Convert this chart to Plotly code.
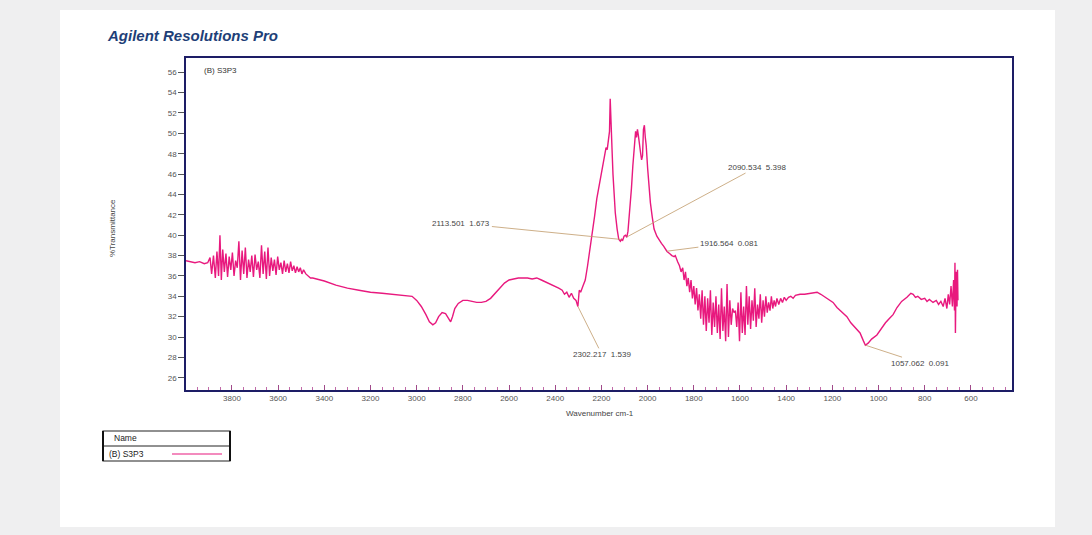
import numpy as np
import plotly.graph_objects as go

# ---------------- data ----------------
wavenumber = [
    3999, 3980, 3960, 3940, 3920, 3905,
    3895, 3888, 3880, 3872, 3865, 3858, 3852, 3846, 3840, 3833, 3826, 3819, 3812, 3805,
    3798, 3791, 3784, 3777, 3770, 3763, 3756, 3749, 3742, 3735, 3728, 3721, 3714, 3707,
    3700, 3693, 3686, 3679, 3672, 3665, 3658, 3651, 3644, 3637, 3630, 3623, 3616, 3609,
    3602, 3595, 3588, 3581, 3574, 3567, 3560, 3553, 3546, 3539, 3532, 3525, 3518, 3511,
    3504, 3497, 3490, 3480, 3470, 3460, 3450,
    3400, 3350, 3300, 3250, 3200, 3150, 3100, 3050, 3020, 3000, 2980, 2960, 2945, 2930,
    2918, 2905, 2890, 2875, 2862, 2853, 2845, 2835, 2820, 2800, 2780, 2760, 2740, 2720,
    2700, 2680, 2660, 2640, 2620, 2600, 2580, 2560, 2540, 2520, 2500, 2480, 2460, 2440,
    2420, 2400, 2385, 2370, 2360, 2350, 2340, 2330, 2320, 2310, 2302, 2296, 2290, 2280,
    2270, 2260, 2250, 2240, 2230, 2220, 2210, 2200, 2190, 2185, 2180, 2175, 2170, 2165,
    2162, 2158, 2154, 2150, 2145, 2140, 2132, 2125, 2118, 2113, 2108, 2102, 2096, 2090,
    2085, 2080, 2075, 2070, 2064, 2058, 2052, 2048, 2044, 2040, 2035, 2030, 2026, 2022,
    2018, 2014, 2010, 2006, 2000, 1994, 1988, 1980, 1972, 1960, 1950, 1940, 1930, 1920,
    1916, 1905, 1895, 1885,
    1880, 1870, 1862, 1855, 1848, 1842, 1836, 1830, 1824, 1818, 1812, 1806, 1800, 1794,
    1788, 1782, 1776, 1770, 1764, 1758, 1752, 1746, 1740, 1734, 1728, 1722, 1716, 1710,
    1704, 1698, 1692, 1686, 1680, 1674, 1668, 1662, 1656, 1650, 1644, 1638, 1632, 1626,
    1620, 1614, 1608, 1602, 1596, 1590, 1584, 1578, 1572, 1566, 1560, 1554, 1548, 1542,
    1536, 1530, 1524, 1518, 1512, 1506, 1500, 1494, 1488, 1482, 1476, 1470, 1464, 1458,
    1452, 1446, 1440, 1432, 1424, 1416, 1408, 1400, 1390, 1380, 1370, 1360, 1340, 1320,
    1300, 1280, 1266, 1250, 1230, 1210, 1197, 1180, 1160, 1137, 1120, 1100, 1080, 1065,
    1057, 1045, 1030, 1007, 990, 970, 950, 937, 920, 900, 877, 860, 850, 840,
    830, 815, 800, 790, 780, 764, 750, 740, 730, 720, 712, 704, 698, 692,
    686, 680, 675, 671, 669, 667, 664, 660, 658, 656,
]
transmittance = [
    37.5, 37.4, 37.3, 37.4, 37.2, 37.3,
    37.8, 36.2, 38.0, 35.8, 38.4, 36.0, 40.0, 35.6, 38.6, 36.4, 38.2, 35.9, 37.9, 36.6,
    38.3, 36.0, 37.5, 36.8, 39.4, 35.6, 38.5, 36.2, 38.8, 35.8, 37.6, 36.4, 38.0, 35.9,
    38.1, 36.6, 37.4, 35.8, 39.0, 36.2, 38.4, 35.7, 38.8, 36.0, 37.8, 36.5, 37.6, 36.1,
    37.9, 36.6, 37.3, 36.2, 37.5, 36.4, 37.2, 36.3, 37.4, 36.5, 37.0, 36.3, 36.9, 36.4,
    36.8, 36.2, 36.6, 36.2, 36.0, 35.8, 35.8,
    35.5, 35.1, 34.8, 34.6, 34.4, 34.3, 34.2, 34.1, 34.0, 33.6, 33.0, 32.2, 31.5, 31.2,
    31.4, 32.0, 32.4, 32.3, 31.8, 31.5, 32.0, 32.8, 33.3, 33.6, 33.6, 33.5, 33.4, 33.4,
    33.5, 33.8, 34.3, 34.9, 35.3, 35.6, 35.7, 35.8, 35.8, 35.8, 35.7, 35.8, 35.6, 35.4,
    35.2, 35.0, 34.8, 34.6, 34.2, 34.4, 33.9, 34.3, 33.8, 33.6, 33.0, 34.6, 34.4, 35.0,
    35.6, 37.0, 38.5, 40.0, 41.8, 43.6, 44.8, 46.2, 47.2, 47.8, 48.6, 48.4, 49.6, 50.2,
    53.4, 50.0, 48.4, 46.0, 44.0, 42.2, 40.6, 39.6, 39.4, 39.6, 39.5, 39.9, 40.0, 39.8,
    40.4, 41.6, 43.0, 44.6, 46.8, 48.6, 50.2, 49.6, 50.4, 49.8, 48.6, 48.0, 47.4, 47.8,
    50.4, 50.8, 49.6, 48.8, 46.6, 44.8, 43.2, 41.8, 40.6, 39.9, 39.5, 39.2, 38.9, 38.6,
    38.4, 38.2, 38.0, 37.9,
    38.0, 37.4, 37.0, 36.4, 36.8, 35.6, 36.4, 35.0, 35.8, 34.4, 35.6, 33.8, 35.0, 33.2,
    34.8, 32.6, 34.2, 31.8, 34.6, 31.2, 34.0, 30.6, 33.8, 31.4, 34.6, 30.2, 33.4, 31.0,
    34.0, 30.4, 33.2, 29.8, 34.8, 30.6, 33.0, 29.6, 35.2, 30.0, 33.6, 31.2, 32.8, 32.4,
    32.6, 31.0, 33.4, 29.6, 34.4, 30.4, 33.0, 30.2, 35.0, 31.2, 34.0, 30.8, 33.6, 31.6,
    34.8, 31.0, 33.2, 31.8, 34.2, 31.4, 33.6, 32.0, 34.0, 32.4, 33.4, 32.6, 34.0, 32.8,
    33.6, 33.0, 33.8, 33.2, 33.8, 33.4, 33.9, 33.6, 33.9, 34.0, 33.8, 34.1, 34.2, 34.2,
    34.3, 34.4, 34.4, 34.2, 33.9, 33.6, 33.4, 32.9, 32.5, 32.0, 31.4, 30.9, 30.4, 29.6,
    29.2, 29.4, 29.8, 30.2, 30.8, 31.4, 31.9, 32.2, 32.9, 33.5, 33.9, 34.3, 34.2, 33.9,
    34.0, 33.7, 33.8, 33.5, 33.7, 33.4, 33.6, 33.2, 33.5, 33.0, 33.8, 32.8, 34.2, 33.2,
    35.0, 33.0, 35.6, 32.6, 37.3, 30.4, 36.4, 33.0, 36.6, 33.6,
]

peak_wavenumbers = [2113.501, 2090.534, 1916.564, 2302.217, 1057.062]
peak_labels = ["2113.501  1.673", "2090.534  5.398", "1916.564  0.081",
               "2302.217  1.539", "1057.062  0.091"]
peak_offsets = [(-160, -16), (130, -70), (62, -8), (24, 48), (55, 18)]

y_ticks = list(range(26, 57, 2))
x_ticks = list(range(3800, 599, -200))

series_name = "(B) S3P3"

# ---------------- figure ----------------
W, H = 1092, 535
LINE = "#e8197e"
AXIS = "#1d1d66"
FONT = "Liberation Sans, Arial, sans-serif"


def px(x):
    return x / W


def py(y):
    return 1 - y / H


fig = go.Figure()
fig.add_trace(go.Scatter(x=wavenumber, y=transmittance, mode="lines",
                         line=dict(color=LINE, width=1.4), name=series_name,
                         showlegend=False))

shapes = [
    # page background card
    dict(type="rect", xref="paper", yref="paper", x0=px(60), x1=px(1055),
         y0=py(527), y1=py(10), fillcolor="white", line=dict(width=0), layer="below"),
    # legend table
    dict(type="rect", xref="paper", yref="paper", x0=px(103), x1=px(230),
         y0=py(461), y1=py(431), line=dict(color="#222", width=1.2)),
    dict(type="line", xref="paper", yref="paper", x0=px(103), x1=px(230),
         y0=py(446), y1=py(446), line=dict(color="#222", width=1)),
    dict(type="line", xref="paper", yref="paper", x0=px(103), x1=px(103),
         y0=py(461), y1=py(431), line=dict(color="#111", width=2)),
    dict(type="line", xref="paper", yref="paper", x0=px(230), x1=px(230),
         y0=py(461), y1=py(431), line=dict(color="#111", width=2)),
    dict(type="line", xref="paper", yref="paper", x0=px(172), x1=px(222),
         y0=py(454), y1=py(454), line=dict(color=LINE, width=1.2)),
]

annotations = [
    dict(text="<b><i>Agilent Resolutions Pro</i></b>", xref="paper", yref="paper",
         x=px(105), y=py(35), xanchor="left", yanchor="middle", showarrow=False,
         font=dict(family=FONT, size=15, color="#1e3f78")),
    dict(text=series_name, xref="paper", yref="paper", x=px(202), y=py(70),
         xanchor="left", yanchor="middle", showarrow=False,
         font=dict(family=FONT, size=8, color="#333")),
    dict(text="%Transmittance", xref="paper", yref="paper", x=px(112), y=py(228),
         xanchor="center", yanchor="middle",
         textangle=-90, showarrow=False, font=dict(family=FONT, size=8, color="#444")),
    dict(text="Wavenumber cm-1", xref="paper", yref="paper", x=px(600), y=py(413),
         xanchor="center", yanchor="middle",
         showarrow=False, font=dict(family=FONT, size=8, color="#444")),
    dict(text="Name", xref="paper", yref="paper", x=px(112), y=py(438),
         xanchor="left", yanchor="middle",
         showarrow=False, font=dict(family=FONT, size=8.5, color="#222")),
    dict(text=series_name, xref="paper", yref="paper", x=px(107), y=py(454),
         xanchor="left", yanchor="middle",
         showarrow=False, font=dict(family=FONT, size=8.5, color="#222")),
]

for wn, lab, (ax, ay) in zip(peak_wavenumbers, peak_labels, peak_offsets):
    yv = float(np.interp(wn, wavenumber[::-1], transmittance[::-1]))
    annotations.append(dict(
        x=wn, y=yv, xref="x", yref="y", text=lab, showarrow=True, arrowhead=0,
        arrowwidth=0.8, arrowcolor="#c09a6a", ax=ax, ay=ay, standoff=0,
        font=dict(family=FONT, size=8, color="#444")))

fig.update_layout(
    width=W, height=H, margin=dict(l=0, r=0, t=0, b=0),
    paper_bgcolor="#efeff0", plot_bgcolor="white",
    shapes=shapes, annotations=annotations, showlegend=False,
    xaxis=dict(domain=[px(186), px(1012)], range=[3999, 422], autorange=False,
               tickvals=x_ticks, ticks="inside", ticklen=5, tickcolor="#a04a8a",
               tickfont=dict(family=FONT, size=8, color="#555"),
               showline=True, linecolor=AXIS, linewidth=1.5, mirror=True,
               showgrid=False, zeroline=False,
               minor=dict(dtick=50, ticks="inside", ticklen=3, tickcolor="#c06aa8")),
    yaxis=dict(domain=[py(390), py(58)], range=[24.8, 57.4], autorange=False,
               tickvals=y_ticks, ticks="outside", ticklen=6, tickcolor="#555",
               tickfont=dict(family=FONT, size=8, color="#555"),
               showline=True, linecolor=AXIS, linewidth=1.5, mirror=True,
               showgrid=False, zeroline=False),
)

fig.write_html("out.html")
